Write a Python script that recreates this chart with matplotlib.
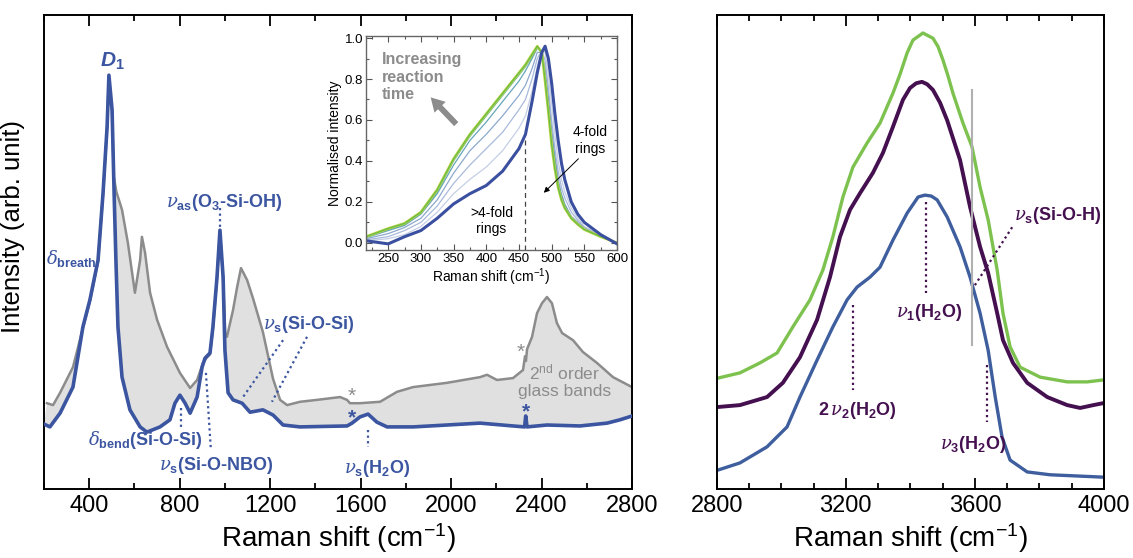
import numpy as np
import matplotlib
matplotlib.use("Agg")
import matplotlib.pyplot as plt
from matplotlib.ticker import MultipleLocator

plt.rcParams["font.family"] = ["Liberation Sans", "DejaVu Sans"]
plt.rcParams["mathtext.fontset"] = "custom"
plt.rcParams["mathtext.rm"] = "Liberation Sans:bold"
plt.rcParams["mathtext.bf"] = "Liberation Sans:bold"
plt.rcParams["mathtext.it"] = "DejaVu Serif:italic"
plt.rcParams["mathtext.sf"] = "Liberation Sans:italic:bold"

# ----------- Data: left panel (200-2800 cm-1) -----------

blue_x = [200, 226, 271, 328, 372, 403, 439, 461, 479, 487, 501, 510, 518, 527, 545,
          580, 625, 655, 713, 757, 779, 801, 824, 846, 877, 899, 912, 934, 947, 965,
          978, 992, 1000, 1014, 1036, 1076, 1111, 1168, 1213, 1257, 1332, 1540, 1562,
          1597, 1633, 1672, 1717, 1832, 1982, 2128, 2274, 2325, 2330, 2336, 2424, 2570,
          2690, 2747, 2800]
blue_y = [13.7, 13.1, 16.0, 21.5, 34.2, 39.9, 48.3, 62.4, 76.4, 87.3, 80.0, 62.4, 48.3,
          34.2, 23.6, 16.7, 13.1, 12.0, 13.1, 14.6, 18.1, 19.8, 18.1, 16.0, 19.4, 25.7,
          27.6, 28.7, 34.2, 44.7, 54.6, 44.7, 29.3, 20.3, 18.8, 18.1, 16.2, 16.7, 15.6,
          13.5, 13.1, 13.3, 13.9, 15.2, 15.8, 14.1, 13.1, 13.1, 13.5, 13.9, 13.3, 13.1,
          15.4, 13.1, 13.5, 13.3, 13.9, 14.6, 15.4]

gray_x = [213, 240, 271, 328, 372, 403, 439, 461, 479, 487, 501, 508, 520, 545, 571,
          602, 625, 633, 647, 669, 700, 744, 801, 846, 877, 903, 921, 934, 947, 965,
          978, 992, 1001, 1009, 1036, 1054, 1071, 1098, 1125, 1168, 1213, 1244, 1275,
          1332, 1407, 1509, 1540, 1553, 1597, 1686, 1761, 1832, 1982, 2128, 2159, 2203,
          2274, 2318, 2327, 2331, 2336, 2358, 2380, 2402, 2424, 2446, 2468, 2491, 2539,
          2583, 2645, 2716, 2800]
gray_y = [18.1, 17.7, 20.3, 25.7, 33.9, 39.6, 48.0, 62.1, 76.1, 87.0, 79.7, 66.0, 62.7,
          58.9, 51.9, 41.4, 48.3, 53.2, 49.8, 41.4, 35.7, 30.0, 24.5, 21.3, 23.0, 26.6,
          27.8, 28.4, 33.9, 44.4, 54.3, 44.4, 33.0, 32.1, 37.8, 42.6, 46.6, 44.1, 40.1,
          33.1, 23.2, 18.8, 17.7, 18.4, 18.8, 19.4, 18.8, 18.1, 18.1, 18.4, 20.5, 21.5,
          22.4, 23.6, 24.1, 23.0, 23.4, 25.1, 28.0, 27.0, 29.5, 32.1, 37.1, 39.2, 40.5,
          39.2, 35.0, 32.9, 31.4, 28.9, 26.6, 23.6, 21.5]

# ----------- Data: inset (normalised D1 band) -----------

inset_x = [216, 250, 275, 300, 325, 350, 375, 400, 425, 450, 460, 470, 478, 485, 490,
           495, 500, 505, 510, 515, 520, 530, 540, 550, 575, 600]
inset_start = [0.01, -0.005, 0.03, 0.06, 0.12, 0.19, 0.24, 0.28, 0.35, 0.46, 0.53, 0.69,
               0.83, 0.93, 0.96, 0.90, 0.78, 0.63, 0.50, 0.39, 0.31, 0.20, 0.14, 0.10,
               0.04, -0.005]
inset_t1 = [0.01, 0.02, 0.04, 0.08, 0.15, 0.24, 0.31, 0.37, 0.45, 0.56, 0.62, 0.74,
            0.86, 0.94, 0.93, 0.82, 0.68, 0.53, 0.40, 0.31, 0.25, 0.17, 0.12, 0.08,
            0.035, 0.0]
inset_t2 = [0.015, 0.03, 0.06, 0.10, 0.18, 0.29, 0.38, 0.46, 0.54, 0.65, 0.70, 0.80,
            0.90, 0.94, 0.89, 0.76, 0.60, 0.46, 0.35, 0.27, 0.22, 0.15, 0.11, 0.075,
            0.033, 0.0]
inset_t3 = [0.02, 0.045, 0.075, 0.12, 0.21, 0.34, 0.45, 0.53, 0.62, 0.72, 0.77, 0.85,
            0.93, 0.93, 0.85, 0.71, 0.55, 0.42, 0.31, 0.24, 0.19, 0.13, 0.10, 0.07,
            0.03, 0.0]
inset_t4 = [0.025, 0.06, 0.085, 0.14, 0.24, 0.38, 0.50, 0.59, 0.69, 0.79, 0.84, 0.90,
            0.95, 0.93, 0.82, 0.68, 0.52, 0.40, 0.29, 0.23, 0.185, 0.125, 0.095, 0.068,
            0.03, 0.0]
inset_t5 = [0.03, 0.065, 0.09, 0.145, 0.25, 0.40, 0.52, 0.62, 0.72, 0.82, 0.86, 0.91,
            0.955, 0.93, 0.81, 0.66, 0.50, 0.38, 0.28, 0.22, 0.175, 0.12, 0.09, 0.066,
            0.03, 0.0]
inset_end = [0.03, 0.07, 0.095, 0.15, 0.26, 0.41, 0.53, 0.63, 0.73, 0.83, 0.87, 0.92,
             0.96, 0.93, 0.79, 0.64, 0.48, 0.36, 0.27, 0.21, 0.17, 0.12, 0.09, 0.065,
             0.03, 0.0]

# ----------- Data: right panel (O-H stretching) -----------

green_x = [2804, 2872, 2934, 2987, 3036, 3089, 3129, 3160, 3191, 3222, 3266, 3306, 3346,
           3368, 3390, 3408, 3439, 3470, 3486, 3501, 3516, 3532, 3563, 3591, 3616, 3641,
           3669, 3687, 3709, 3740, 3802, 3886, 3948, 3997]
green_y = [23.4, 24.5, 26.6, 28.7, 34.2, 39.9, 46.2, 53.2, 61.6, 67.9, 73.0, 77.2, 83.5,
           87.5, 92.0, 94.7, 96.2, 95.1, 93.3, 90.5, 87.3, 83.5, 77.2, 72.2, 63.7, 56.8,
           46.2, 37.1, 30.0, 25.7, 23.6, 22.6, 22.6, 23.0]

purple_x = [2804, 2872, 2956, 3005, 3058, 3111, 3151, 3182, 3213, 3244, 3284, 3315, 3346,
            3377, 3399, 3418, 3436, 3452, 3470, 3492, 3514, 3554, 3585, 3616, 3641, 3669,
            3687, 3718, 3762, 3824, 3886, 3926, 3967, 3997]
purple_y = [17.3, 17.7, 19.4, 22.4, 27.8, 35.7, 44.7, 53.2, 58.9, 62.4, 66.7, 70.9, 76.4,
            82.1, 84.6, 85.6, 85.9, 85.4, 84.2, 81.5, 77.8, 69.4, 59.5, 51.1, 45.6, 37.1,
            31.4, 26.6, 22.4, 19.4, 17.7, 17.1, 17.7, 18.1]

rblue_x = [2804, 2872, 2956, 3018, 3058, 3111, 3160, 3204, 3235, 3275, 3306, 3346, 3390,
           3424, 3445, 3465, 3483, 3514, 3554, 3585, 3616, 3641, 3663, 3684, 3709, 3762,
           3833, 3997]
rblue_y = [4.0, 5.5, 8.9, 13.1, 19.4, 27.2, 34.2, 39.9, 42.6, 44.7, 46.8, 52.5, 58.2,
           61.6, 62.0, 61.8, 61.0, 57.4, 51.1, 44.7, 37.1, 29.3, 19.4, 11.0, 6.1, 3.6,
           3.0, 2.5]

BLUE = "#3b55a0"
GRAY = "#8c8c8c"
FILL = "#dfe0df"
PURPLE = "#45104f"
GREEN = "#7dc24f"
RBLUE = "#3e5e9e"

fig = plt.figure(figsize=(11.33, 5.58), dpi=100)
W, H = 1133, 558
ax1 = fig.add_axes([44 / W, 1 - 489 / H, 588 / W, 474 / H])
ax2 = fig.add_axes([716.7 / W, 1 - 489 / H, 387.3 / W, 474 / H])
axin = fig.add_axes([366 / W, 1 - 250 / H, 251 / W, 214 / H])


def style_main(ax, major, minor):
    ax.xaxis.set_major_locator(MultipleLocator(major))
    ax.xaxis.set_minor_locator(MultipleLocator(minor))
    ax.tick_params(axis="x", which="both", direction="in", top=True, width=1.3,
                   labelsize=17, pad=4)
    ax.tick_params(axis="x", which="major", length=8)
    ax.tick_params(axis="x", which="minor", length=4)
    ax.set_yticks([])
    for s in ax.spines.values():
        s.set_linewidth(1.4)
    ax.set_ylim(0, 100)
    ax.set_xlabel("Raman shift (cm$^{\\mathregular{-1}}$)", fontsize=20, labelpad=3)


# ----------- Left panel -----------
ax1.fill(np.concatenate([blue_x, gray_x[::-1]]), np.concatenate([blue_y, gray_y[::-1]]),
         color=FILL, lw=0, zorder=1)
ax1.plot(gray_x, gray_y, color=GRAY, lw=1.8, zorder=2, solid_joinstyle="round")
ax1.plot(blue_x, blue_y, color=BLUE, lw=2.6, zorder=3, solid_joinstyle="round")
ax1.set_xlim(200, 2800)
style_main(ax1, 400, 200)
ax1.set_ylabel("Intensity (arb. unit)", fontsize=18.5)
ax1.yaxis.set_label_coords(-0.032, 0.553)

tk = dict(color=BLUE, fontsize=13, fontweight="bold", ha="center", va="center")
ax1.text(501, 90.3, "$\\mathsf{D}_\\mathrm{1}$", color=BLUE, fontsize=15, ha="center", va="center")
ax1.text(322, 48.7, "$\\delta_\\mathrm{breath}$", **tk)
ax1.text(996, 60.5, "$\\nu_\\mathrm{as}$(O$_\\mathrm{3}$-Si-OH)", **tk)
ax1.text(1372, 34.6, "$\\nu_\\mathrm{s}$(Si-O-Si)", **tk)
ax1.text(647, 10.3, "$\\delta_\\mathrm{bend}$(Si-O-Si)", **tk)
ax1.text(961, 4.9, "$\\nu_\\mathrm{s}$(Si-O-NBO)", **tk)
ax1.text(1672, 4.4, "$\\nu_\\mathrm{s}$(H$_\\mathrm{2}$O)", **tk)

dot = dict(color=BLUE, ls=(0, (1, 1.5)), lw=1.6)
ax1.plot([978, 978], [59.3, 55.1], **dot)
ax1.plot([1257, 1080], [31.4, 19.4], **dot)
ax1.plot([1363, 1208], [32.1, 18.4], **dot)
ax1.plot([806, 806], [17.1, 13.1], **dot)
ax1.plot([916, 938], [24.5, 8.2], **dot)
ax1.plot([1633, 1633], [12.4, 8.9], **dot)

ax1.text(1562, 19.6, "*", color=GRAY, fontsize=15, ha="center", va="center")
ax1.text(1562, 15.0, "*", color=BLUE, fontsize=15, fontweight="bold", ha="center", va="center")
ax1.text(2310, 28.8, "*", color=GRAY, fontsize=15, ha="center", va="center")
ax1.text(2330, 16.2, "*", color=BLUE, fontsize=15, fontweight="bold", ha="center", va="center")
ax1.text(2500, 22.8, "2$^{\\mathregular{nd}}$ order\nglass bands", color=GRAY, fontsize=12.5,
         ha="center", va="center", linespacing=1.15)

# ----------- Inset -----------
thin_sets = [inset_t1, inset_t2, inset_t3, inset_t4, inset_t5]
thin_cols = ["#b5c2df", "#93a8d2", "#6f93c0", "#3f8fa6", "#2f9a7e"]
for ys, c in zip(thin_sets, thin_cols):
    axin.plot(inset_x, ys, color=c, lw=0.9, alpha=0.8)
axin.plot(inset_x, inset_end, color="#c3d84a", lw=2.0)
axin.plot(inset_x, inset_end, color="#6cbd45", lw=1.0)
axin.plot(inset_x, inset_start, color="#3a4f9f", lw=2.2)
axin.plot([460, 460], [-0.035, 0.5], color="#444444", lw=0.9, dashes=(4, 3))
axin.set_xlim(216, 600)
axin.set_ylim(-0.035, 1.01)
axin.xaxis.set_major_locator(MultipleLocator(50))
axin.xaxis.set_minor_locator(MultipleLocator(25))
axin.yaxis.set_major_locator(MultipleLocator(0.2))
axin.yaxis.set_minor_locator(MultipleLocator(0.1))
axin.yaxis.set_major_formatter(matplotlib.ticker.FormatStrFormatter("%.1f"))
axin.tick_params(which="both", direction="in", top=True, right=True, labelsize=9.5,
                 width=0.8, pad=2, colors="#555555", labelcolor="black")
axin.tick_params(which="major", length=4)
axin.tick_params(which="minor", length=2)
for s in axin.spines.values():
    s.set_color("#666666")
    s.set_linewidth(1.0)
axin.set_xlabel("Raman shift (cm$^{\\mathregular{-1}}$)", fontsize=10, labelpad=1)
axin.set_ylabel("Normalised intensity", fontsize=10, labelpad=2)
axin.text(240, 0.93, "Increasing\nreaction\ntime", color=GRAY, fontsize=11.5,
          fontweight="bold", ha="left", va="top", linespacing=1.2)
axin.annotate("", xy=(312, 0.72), xytext=(357, 0.57),
              arrowprops=dict(arrowstyle="simple,head_width=0.8,head_length=0.7,tail_width=0.3",
                              color=GRAY, mutation_scale=14, lw=0))
axin.text(408, 0.105, ">4-fold\nrings", fontsize=10, ha="center", va="center", linespacing=1.2)
axin.text(559, 0.50, "4-fold\nrings", fontsize=10, ha="center", va="center", linespacing=1.2)
axin.annotate("", xy=(485, 0.235), xytext=(544, 0.42),
              arrowprops=dict(arrowstyle="-|>", color="black", lw=0.7, mutation_scale=8))

# ----------- Right panel -----------
ax2.plot(green_x, green_y, color=GREEN, lw=2.4, solid_joinstyle="round")
ax2.plot(purple_x, purple_y, color=PURPLE, lw=2.8, solid_joinstyle="round")
ax2.plot(rblue_x, rblue_y, color=RBLUE, lw=2.4, solid_joinstyle="round")
ax2.plot([3590, 3590], [30.4, 84.2], color="#b0b0b0", lw=1.5)
ax2.set_xlim(2800, 4000)
style_main(ax2, 400, 100)

pk = dict(color=PURPLE, fontsize=13, fontweight="bold", ha="center", va="center")
ax2.text(3858, 57.6, "$\\nu_\\mathrm{s}$(Si-O-H)", **pk)
ax2.text(3458, 37.3, "$\\nu_\\mathrm{1}$(H$_\\mathrm{2}$O)", **pk)
ax2.text(3235, 16.5, "2$\\,\\nu_\\mathrm{2}$(H$_\\mathrm{2}$O)", **pk)
ax2.text(3594, 9.3, "$\\nu_\\mathrm{3}$(H$_\\mathrm{2}$O)", **pk)
pdot = dict(color=PURPLE, ls=(0, (1, 1.5)), lw=1.6)
ax2.plot([3600, 3718], [43.0, 55.5], **pdot)
ax2.plot([3448, 3448], [60.5, 41.4], **pdot)
ax2.plot([3222, 3222], [38.8, 20.9], **pdot)
ax2.plot([3637, 3637], [26.2, 14.1], **pdot)

fig.savefig("out.png", dpi=100)
